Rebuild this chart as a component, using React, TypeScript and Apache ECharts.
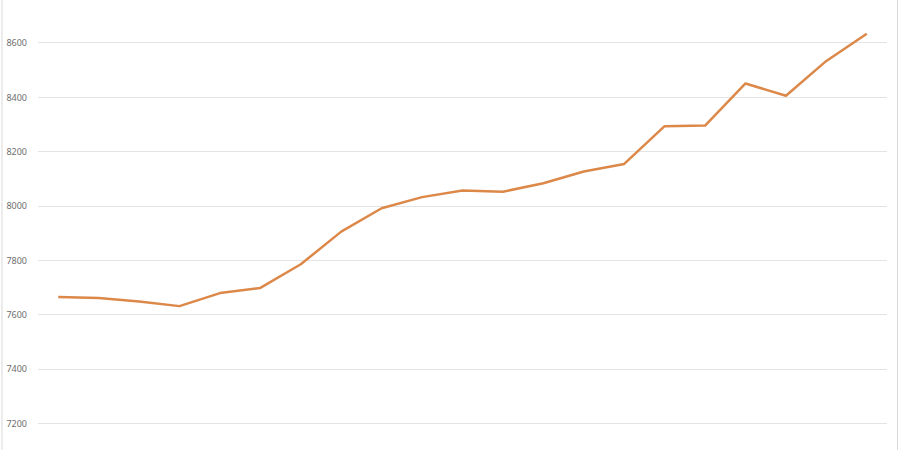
import { useEffect, useRef } from 'react'
import * as echarts from 'echarts'

// 21 periods, no visible labels on the x axis
const periods = Array.from({ length: 21 }, (_, i) => `P${i + 1}`)
const values = [
  7665, 7661, 7648, 7631, 7679, 7698, 7785, 7905, 7991, 8032, 8056,
  8052, 8083, 8126, 8154, 8293, 8295, 8450, 8405, 8533, 8633,
]
const yMin = 7200
const yMax = 8600
const yStep = 200

const LINE_COLOR = '#dc8849'

const App: React.FC = () => {
  const chartRef = useRef<HTMLDivElement | null>(null)

  useEffect(() => {
    if (!chartRef.current) return
    const chart = echarts.init(chartRef.current, null, { renderer: 'svg' })

    const option: echarts.EChartsOption = {
      animation: false,
      backgroundColor: '#ffffff',
      grid: { left: 38, right: 13, top: 42.7, bottom: 26.7, outerBoundsMode: 'none' } as any,
      xAxis: {
        type: 'category',
        data: periods,
        boundaryGap: true,
        axisLine: { show: false },
        axisTick: { show: false },
        axisLabel: { show: false },
        splitLine: { show: false },
      },
      yAxis: {
        type: 'value',
        min: yMin,
        max: yMax,
        interval: yStep,
        axisLine: { show: false },
        axisTick: { show: false },
        axisLabel: {
          color: '#6e6e6e',
          fontSize: 9,
          fontFamily: 'Noto Sans',
          margin: 11,
          formatter: (v: number) => String(v),
        },
        splitLine: { lineStyle: { color: '#e4e4e4', width: 1 } },
      },
      series: [
        {
          type: 'line',
          data: values,
          symbol: 'none',
          clip: false,
          lineStyle: { color: LINE_COLOR, width: 2.5, join: 'round' },
        },
      ],
      graphic: [
        { type: 'line', shape: { x1: 2, y1: 0, x2: 2, y2: 450 }, style: { stroke: '#d9d9d9', lineWidth: 1 } },
        { type: 'line', shape: { x1: 897.5, y1: 0, x2: 897.5, y2: 450 }, style: { stroke: '#d9d9d9', lineWidth: 1 } },
      ],
    }

    chart.setOption(option)
    return () => {
      chart.dispose()
    }
  }, [])

  return (
    <div
      ref={chartRef}
      style={{ position: 'fixed', left: 0, top: 0, width: 900, height: 450 }}
    />
  )
}

export default App
